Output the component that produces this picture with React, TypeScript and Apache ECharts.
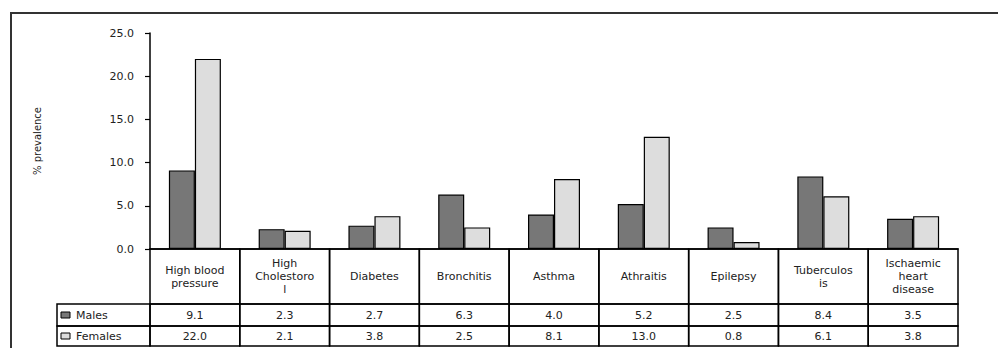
import React, { useEffect, useRef } from "react";
import * as echarts from "echarts";

const categories = [
  "High blood\npressure",
  "High\nCholestoro\nl",
  "Diabetes",
  "Bronchitis",
  "Asthma",
  "Athraitis",
  "Epilepsy",
  "Tuberculos\nis",
  "Ischaemic\nheart\ndisease",
];
const males = [9.1, 2.3, 2.7, 6.3, 4.0, 5.2, 2.5, 8.4, 3.5];
const females = [22.0, 2.1, 3.8, 2.5, 8.1, 13.0, 0.8, 6.1, 3.8];
const seriesNames = ["Males", "Females"];
const seriesColors = ["#777777", "#dddddd"];
const yTicks = { min: 0, max: 25, interval: 5 };
const yTitle = "% prevalence";

const FONT = "'DejaVu Sans', Arial, sans-serif";
const LABEL_ROW = 55;
const MALE_ROW = 22;
const FEMALE_ROW = 20;
const LW = 1.5;

export default function App() {
  const ref = useRef<HTMLDivElement>(null);
  useEffect(() => {
    document.body.style.margin = "0";
    const chart = echarts.init(ref.current!, null, { renderer: "svg" });
    const rowTops = [249 + LABEL_ROW, 249 + LABEL_ROW + MALE_ROW];
    const rowHeights = [MALE_ROW, FEMALE_ROW];
    const legendGraphics: any[] = [];
    seriesNames.forEach((n, i) => {
      const cy = rowTops[i] + rowHeights[i] / 2;
      legendGraphics.push(
        {
          type: "rect",
          shape: { x: 57, y: rowTops[i], width: 93, height: rowHeights[i] },
          style: { fill: "none", stroke: "#000", lineWidth: LW },
          silent: true,
        },
        {
          type: "rect",
          shape: { x: 61, y: cy - 3, width: 9, height: 6 },
          style: { fill: seriesColors[i], stroke: "#000", lineWidth: 1 },
          silent: true,
        },
        {
          type: "text",
          style: {
            x: 76,
            y: cy,
            text: n,
            fill: "#222",
            font: `11px ${FONT}`,
            verticalAlign: "middle",
          },
          silent: true,
        }
      );
    });
    const option: any = {
      animation: false,
      backgroundColor: "#ffffff",
      grid: { left: 150, top: 33, width: 808, height: 216 },
      xAxis: {
        type: "category",
        data: categories,
        axisLine: { lineStyle: { color: "#000", width: LW } },
        axisTick: { show: false },
        axisLabel: { show: false },
        splitLine: { show: false },
      },
      yAxis: {
        type: "value",
        min: yTicks.min,
        max: yTicks.max,
        interval: yTicks.interval,
        name: yTitle,
        nameLocation: "middle",
        nameGap: 108,
        nameTextStyle: { fontFamily: FONT, fontSize: 10, color: "#222" },
        axisLine: { show: true, lineStyle: { color: "#000", width: LW } },
        axisTick: { show: true, length: 5, lineStyle: { color: "#000", width: 1.2 } },
        axisLabel: {
          fontFamily: FONT,
          fontSize: 11,
          color: "#222",
          margin: 16,
          formatter: (v: number) => v.toFixed(1),
        },
        splitLine: { show: false },
      },
      graphic: [
        {
          type: "rect",
          shape: { x: 11, y: 13, width: 1000, height: 400 },
          style: { fill: "none", stroke: "#333", lineWidth: 2 },
          silent: true,
        },
        ...legendGraphics,
      ],
      series: [
        {
          name: seriesNames[0],
          type: "bar",
          data: males,
          barWidth: 26,
          barGap: "0%",
          itemStyle: { color: seriesColors[0], borderColor: "#000", borderWidth: 1.2 },
        },
        {
          name: seriesNames[1],
          type: "bar",
          data: females,
          barWidth: 26,
          barGap: "0%",
          itemStyle: { color: seriesColors[1], borderColor: "#000", borderWidth: 1.2 },
        },
        {
          type: "custom",
          coordinateSystem: "cartesian2d",
          silent: true,
          clip: false,
          data: categories.map((_, i) => [i, 0]),
          renderItem: (params: any, api: any) => {
            const idx = api.value(0);
            const p = api.coord([idx, 0]);
            const band = api.size([1, 0])[0];
            const left = p[0] - band / 2;
            const top = p[1];
            const lineStyle = { fill: "none", stroke: "#000", lineWidth: LW };
            const txt = (x: number, y: number, t: string) => ({
              type: "text",
              style: {
                x,
                y,
                text: t,
                fill: "#222",
                font: `11px ${FONT}`,
                align: "center",
                verticalAlign: "middle",
                lineHeight: 13,
              },
            });
            return {
              type: "group",
              children: [
                { type: "rect", shape: { x: left, y: top, width: band, height: LABEL_ROW }, style: lineStyle },
                { type: "rect", shape: { x: left, y: top + LABEL_ROW, width: band, height: MALE_ROW }, style: lineStyle },
                {
                  type: "rect",
                  shape: { x: left, y: top + LABEL_ROW + MALE_ROW, width: band, height: FEMALE_ROW },
                  style: lineStyle,
                },
                txt(p[0], top + LABEL_ROW / 2, categories[idx]),
                txt(p[0], top + LABEL_ROW + MALE_ROW / 2, males[idx].toFixed(1)),
                txt(p[0], top + LABEL_ROW + MALE_ROW + FEMALE_ROW / 2, females[idx].toFixed(1)),
              ],
            };
          },
        },
      ],
    };
    chart.setOption(option);
    return () => chart.dispose();
  }, []);
  return <div ref={ref} style={{ width: 998, height: 348 }} />;
}
